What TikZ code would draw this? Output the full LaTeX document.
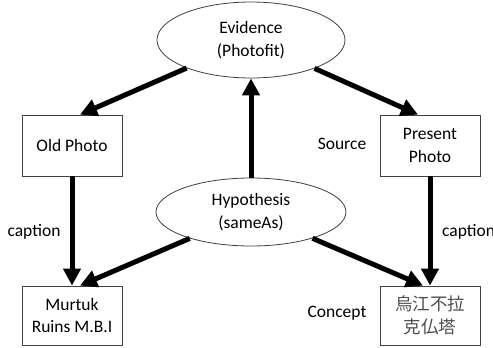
\documentclass[tikz,border=0pt]{standalone}
\usepackage{fontspec}
\setmainfont{Carlito}
\newfontfamily\cjk{Noto Sans CJK JP}
\usetikzlibrary{shapes.geometric,arrows.meta}
\begin{document}
\begin{tikzpicture}[x=1pt,y=-1pt,
  every node/.style={font=\fontsize{17.5}{22.5}\selectfont, align=center, inner sep=0pt},
  ell/.style={ellipse, draw=black!75, line width=0.8pt, fill=white},
  box/.style={rectangle, draw=black!75, line width=0.8pt, minimum width=100pt},
  arr/.style={line width=5pt, -{Triangle[length=17pt,width=17pt]}}]
\useasboundingbox (0,0) rectangle (493,348);
\node[ell, minimum width=188pt, minimum height=76pt] (ev) at (251,40) {Evidence\\(Photofit)};
\node[ell, minimum width=190pt, minimum height=68pt] (hy) at (251,212) {Hypothesis\\(sameAs)};
\node[box, minimum height=61pt] (old) at (72,145.5) {Old Photo};
\node[box, minimum height=61pt] (pres) at (430,145.5) {Present\\Photo};
\node[box, minimum height=59pt] (mur) at (72,315.5) {Murtuk\\Ruins M.B.I};
\node[box, minimum height=59pt, text=black!70] (cn) at (430,315.5) {\cjk 烏江不拉\\\cjk 克仏塔};
\node (src) at (342,144) {Source};
\node (capl) at (34,232) {caption};
\node[anchor=west] (capr) at (442,232) {caption};
\node (con) at (337,313) {Concept};
\draw[arr] (ev) -- ([xshift=8pt]old.north);
\draw[arr] (ev) -- ([xshift=-12pt]pres.north);
\draw[arr] (hy) -- (ev);
\draw[arr] (old) -- (mur);
\draw[arr] (pres) -- (cn);
\draw[arr] (hy) -- ([xshift=8pt]mur.north);
\draw[arr] (hy) -- ([xshift=-7pt]cn.north);
\end{tikzpicture}
\end{document}
